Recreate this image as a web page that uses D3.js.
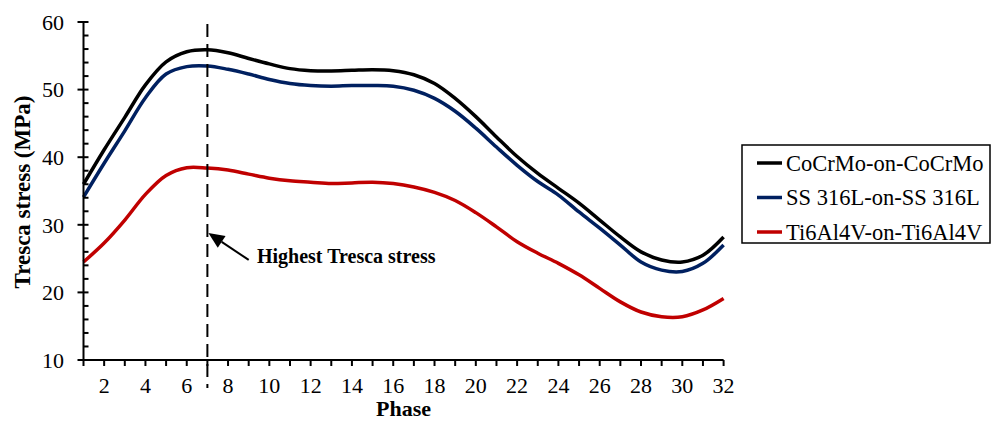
<!DOCTYPE html>
<html>
<head>
<meta charset="utf-8">
<script src="https://cdn.jsdelivr.net/npm/d3@7"></script>
<style>
  body { margin: 0; background: #fff; }
  text { font-family: "Liberation Serif", "Times New Roman", serif; fill: #000; }
</style>
</head>
<body>
<div id="chart"></div>
<script>
// phases along the x axis
var phases = [1, 2, 3, 4, 5, 6, 7, 8, 9, 10, 11, 12, 13, 14, 15, 16,
  17, 18, 19, 20, 21, 22, 23, 24, 25, 26, 27, 28, 29, 30, 31, 32];

// Tresca stress (MPa)
var cocrmo = [36.0, 41.1, 45.9, 50.7, 54.1, 55.6, 55.9, 55.45, 54.6, 53.8, 53.1, 52.8,
  52.75, 52.85, 52.95, 52.8, 52.2, 50.9, 48.7, 46.0, 43.0, 40.1, 37.6, 35.4,
  33.2, 30.7, 28.2, 26.0, 24.8, 24.5, 25.5, 28.2];
var ss316l = [34.1, 39.1, 43.9, 48.8, 52.3, 53.4, 53.5, 53.0, 52.3, 51.5, 50.9, 50.6,
  50.5, 50.6, 50.6, 50.5, 49.9, 48.7, 46.8, 44.3, 41.5, 38.8, 36.4, 34.4,
  31.9, 29.5, 27.0, 24.5, 23.3, 23.1, 24.3, 27.0];
var ti6al4v = [24.5, 27.3, 30.7, 34.5, 37.3, 38.45, 38.4, 38.1, 37.5, 36.9, 36.5, 36.3,
  36.1, 36.2, 36.3, 36.1, 35.6, 34.8, 33.6, 31.8, 29.7, 27.5, 25.8, 24.3,
  22.6, 20.6, 18.6, 17.1, 16.4, 16.4, 17.4, 19.1];

var seriesNames = ["CoCrMo-on-CoCrMo", "SS 316L-on-SS 316L", "Ti6Al4V-on-Ti6Al4V"];
var seriesColors = ["#000000", "#002060", "#c00000"];

var xTickLabels = [2, 4, 6, 8, 10, 12, 14, 16, 18, 20, 22, 24, 26, 28, 30, 32];
var yTickLabels = [10, 20, 30, 40, 50, 60];

var highestPhase = 7;

function init() {
  var width = 992, height = 423;

  var x = d3.scaleLinear().domain([1, 32]).range([83.5, 723.6]);
  var y = d3.scaleLinear().domain([10, 60]).range([360, 22]);

  var svg = d3.select("#chart").append("svg")
    .attr("width", width)
    .attr("height", height);

  // lines
  var line = d3.line()
    .x(function (d, i) { return x(phases[i]); })
    .y(function (d) { return y(d); })
    .curve(d3.curveCatmullRom.alpha(0.5));

  var allSeries = [cocrmo, ss316l, ti6al4v];
  svg.append("g").selectAll("path")
    .data(allSeries)
    .enter()
    .append("path")
    .attr("d", line)
    .attr("fill", "none")
    .attr("stroke", function (d, i) { return seriesColors[i]; })
    .attr("stroke-width", 3.5);

  // dashed line at the highest stress phase
  svg.append("line")
    .attr("x1", x(highestPhase)).attr("x2", x(highestPhase))
    .attr("y1", y(60) + 2).attr("y2", 388)
    .attr("stroke", "#000")
    .attr("stroke-width", 2)
    .attr("stroke-dasharray", "13,7");

  // y axis
  var yAxis = svg.append("g");
  yAxis.append("line")
    .attr("x1", x(1)).attr("x2", x(1))
    .attr("y1", y(60)).attr("y2", y(10))
    .attr("stroke", "#000").attr("stroke-width", 2);
  var minorY = d3.range(10, 61, 2);
  yAxis.selectAll(".minor")
    .data(minorY)
    .enter()
    .append("line")
    .attr("x1", function (d) { return d % 10 === 0 ? x(1) - 6 : x(1); })
    .attr("x2", x(1) + 5)
    .attr("y1", function (d) { return y(d); })
    .attr("y2", function (d) { return y(d); })
    .attr("stroke", "#000").attr("stroke-width", 2);
  yAxis.selectAll("text")
    .data(yTickLabels)
    .enter()
    .append("text")
    .attr("x", 64)
    .attr("y", function (d) { return y(d); })
    .attr("dy", "0.35em")
    .attr("text-anchor", "end")
    .style("font-size", "22px")
    .text(function (d) { return d; });

  // x axis
  var xAxis = svg.append("g");
  xAxis.append("line")
    .attr("x1", x(1)).attr("x2", x(32))
    .attr("y1", y(10)).attr("y2", y(10))
    .attr("stroke", "#000").attr("stroke-width", 2);
  xAxis.selectAll(".tick")
    .data(phases)
    .enter()
    .append("line")
    .attr("x1", function (d) { return x(d); })
    .attr("x2", function (d) { return x(d); })
    .attr("y1", y(10))
    .attr("y2", y(10) + 6)
    .attr("stroke", "#000").attr("stroke-width", 2);
  xAxis.selectAll("text")
    .data(xTickLabels)
    .enter()
    .append("text")
    .attr("x", function (d) { return x(d); })
    .attr("y", 393)
    .attr("text-anchor", "middle")
    .style("font-size", "22px")
    .text(function (d) { return d; });

  // axis titles
  svg.append("text")
    .attr("x", (x(1) + x(32)) / 2)
    .attr("y", 416)
    .attr("text-anchor", "middle")
    .style("font-size", "22px")
    .style("font-weight", "bold")
    .text("Phase");
  svg.append("text")
    .attr("transform", "translate(30," + 192 + ") rotate(-90)")
    .attr("text-anchor", "middle")
    .style("font-size", "23px")
    .style("font-weight", "bold")
    .text("Tresca stress (MPa)");

  // annotation arrow
  var tip = [x(highestPhase) + 1, y(28.8)];
  var tail = [x(9), y(24.8)];
  var dx = tip[0] - tail[0], dy = tip[1] - tail[1];
  var len = Math.sqrt(dx * dx + dy * dy);
  var ux = dx / len, uy = dy / len;
  var headLen = 16, headW = 7;
  var bx = tip[0] - ux * headLen, by = tip[1] - uy * headLen;
  svg.append("line")
    .attr("x1", tail[0]).attr("y1", tail[1])
    .attr("x2", bx).attr("y2", by)
    .attr("stroke", "#000").attr("stroke-width", 2);
  svg.append("polygon")
    .attr("points", [
      tip,
      [bx - uy * headW, by + ux * headW],
      [bx + uy * headW, by - ux * headW]
    ].map(function (p) { return p.join(","); }).join(" "))
    .attr("fill", "#000");
  svg.append("text")
    .attr("x", x(9.4))
    .attr("y", y(24.4))
    .style("font-size", "20px")
    .style("font-weight", "bold")
    .text("Highest Tresca stress");

  // legend
  var legend = svg.append("g").attr("transform", "translate(742,145)");
  legend.append("rect")
    .attr("width", 248).attr("height", 98)
    .attr("fill", "#fff")
    .attr("stroke", "#000").attr("stroke-width", 1.5);
  var items = legend.selectAll(".item")
    .data(seriesNames)
    .enter()
    .append("g")
    .attr("transform", function (d, i) { return "translate(0," + (18 + i * 34.5) + ")"; });
  items.append("line")
    .attr("x1", 15).attr("x2", 40)
    .attr("stroke", function (d, i) { return seriesColors[i]; })
    .attr("stroke-width", 3.5);
  items.append("text")
    .attr("x", 44)
    .attr("dy", "0.35em")
    .style("font-size", "22.5px")
    .text(function (d) { return d; });
}

window.onload = init;
</script>
</body>
</html>
